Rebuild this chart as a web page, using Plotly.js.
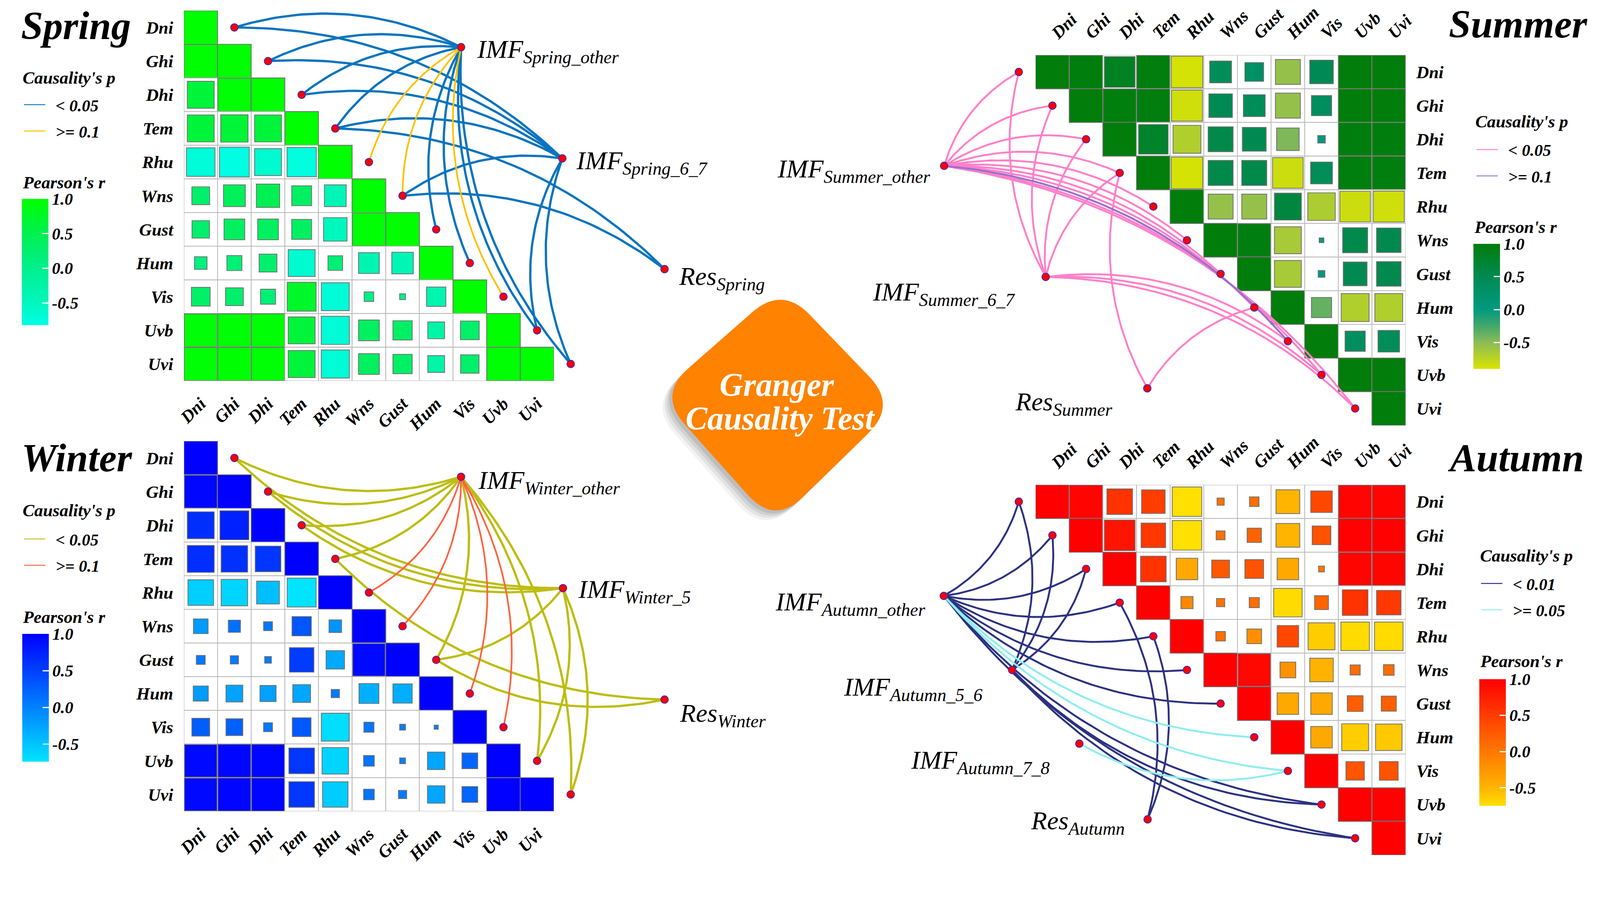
<!DOCTYPE html>
<html><head><meta charset="utf-8">
<script src="https://cdn.plot.ly/plotly-3.0.1.min.js"></script>
<style>html,body{margin:0;padding:0;background:#fff;overflow:hidden}</style>
</head><body><div id="chart"></div>
<script>
// ---------------- DATA ----------------
const variables = ['Dni','Ghi','Dhi','Tem','Rhu','Wns','Gust','Hum','Vis','Uvb','Uvi'];

// Pearson's r, lower triangle (row i -> columns 0..i-1), diagonal = 1
const springR = [
 [],
 [0.98],
 [0.64,0.97],
 [0.64,0.66,0.64],
 [-0.72,-0.79,-0.64,-0.76],
 [0.28,0.42,0.48,0.35,-0.42],
 [0.27,0.38,0.38,0.35,-0.49,0.97],
 [0.14,0.20,0.28,-0.64,0.19,-0.38,-0.41],
 [0.31,0.28,0.20,0.74,-0.69,0.08,0.03,-0.33],
 [0.96,0.97,0.97,0.64,-0.70,0.38,0.33,-0.25,0.31],
 [0.97,0.98,0.97,0.64,-0.70,0.38,0.33,-0.25,0.30,0.99]
];
const winterR = [
 [],
 [0.95],
 [0.64,0.74],
 [0.64,0.62,0.58],
 [-0.58,-0.62,-0.46,-0.74],
 [-0.19,0.13,0.07,0.33,-0.14],
 [0.07,0.06,0.04,0.53,-0.30,0.93],
 [-0.20,-0.25,-0.23,-0.28,0.06,-0.35,-0.33],
 [0.28,0.25,0.07,0.31,-0.69,0.09,0.03,0.015],
 [0.93,0.96,0.96,0.58,-0.62,0.10,0.03,-0.27,0.22],
 [0.94,0.96,0.96,0.58,-0.57,0.10,0.06,-0.27,0.22,0.99]
];
// upper triangle (row i -> columns i+1..10)
const summerR = [
 [0.98,0.83,0.97,-0.88,0.42,0.31,-0.55,0.49,0.99,0.99],
 [0.97,0.97,-0.85,0.49,0.42,-0.55,0.36,0.99,0.99],
 [0.77,-0.69,0.55,0.50,-0.45,0.05,0.98,0.98],
 [-0.88,0.55,0.55,-0.83,0.42,0.97,0.97],
 [-0.55,-0.55,0.64,-0.67,-0.83,-0.85],
 [0.96,-0.64,0.02,0.55,0.53],
 [-0.64,0.04,0.50,0.53],
 [-0.36,-0.69,-0.69],
 [0.36,0.41],
 [0.99],
 []
];
const autumnR = [
 [0.97,0.58,0.49,-0.77,0.045,0.08,-0.50,0.41,0.97,0.97],
 [0.83,0.53,-0.77,0.07,0.18,-0.50,0.31,0.99,0.98],
 [0.58,-0.41,0.28,0.31,-0.41,0.03,0.96,0.96],
 [-0.13,0.06,0.09,-0.72,0.17,0.58,0.53],
 [0.08,-0.19,0.41,-0.64,-0.72,-0.72],
 [0.93,-0.22,-0.49,0.09,0.10],
 [-0.41,-0.41,0.22,0.20],
 [-0.41,-0.64,-0.62],
 [0.30,0.31],
 [0.98],
 []
];

// colour-scale limits (min r of each season .. 1)
const springLimits = [-0.82, 1.0];
const summerLimits = [-0.90, 1.0];
const winterLimits = [-0.74, 1.0];
const autumnLimits = [-0.75, 1.0];

// Granger causality links: [hub, variable, p-class (0 = first legend entry, 1 = second)]
const springEdges = [
 ['IMF_Spring_other','Dni',0],['IMF_Spring_other','Ghi',0],['IMF_Spring_other','Dhi',0],['IMF_Spring_other','Tem',0],
 ['IMF_Spring_other','Rhu',1],['IMF_Spring_other','Wns',1],['IMF_Spring_other','Gust',0],['IMF_Spring_other','Hum',0],
 ['IMF_Spring_other','Vis',1],['IMF_Spring_other','Uvb',0],['IMF_Spring_other','Uvi',0],
 ['IMF_Spring_6_7','Dni',0],['IMF_Spring_6_7','Ghi',0],['IMF_Spring_6_7','Dhi',0],['IMF_Spring_6_7','Tem',0],
 ['IMF_Spring_6_7','Wns',0],['IMF_Spring_6_7','Uvb',0],['IMF_Spring_6_7','Uvi',0],
 ['Res_Spring','Tem',0],['Res_Spring','Wns',0]
];
const summerEdges = [
 ['IMF_Summer_other','Dni',0],['IMF_Summer_other','Ghi',0],['IMF_Summer_other','Dhi',0],['IMF_Summer_other','Tem',0],
 ['IMF_Summer_other','Rhu',0],['IMF_Summer_other','Wns',0],['IMF_Summer_other','Gust',0],['IMF_Summer_other','Hum',0],
 ['IMF_Summer_other','Vis',1],['IMF_Summer_other','Uvb',0],['IMF_Summer_other','Uvi',0],
 ['IMF_Summer_6_7','Dni',0],['IMF_Summer_6_7','Ghi',0],['IMF_Summer_6_7','Dhi',0],['IMF_Summer_6_7','Tem',0],
 ['IMF_Summer_6_7','Vis',0],['IMF_Summer_6_7','Uvb',0],['IMF_Summer_6_7','Uvi',0],
 ['Res_Summer','Tem',0],['Res_Summer','Hum',0]
];
const winterEdges = [
 ['IMF_Winter_other','Dni',0],['IMF_Winter_other','Ghi',0],['IMF_Winter_other','Dhi',0],['IMF_Winter_other','Tem',0],
 ['IMF_Winter_other','Rhu',1],['IMF_Winter_other','Wns',1],['IMF_Winter_other','Gust',0],['IMF_Winter_other','Hum',1],
 ['IMF_Winter_other','Vis',1],['IMF_Winter_other','Uvb',0],['IMF_Winter_other','Uvi',0],
 ['IMF_Winter_5','Dni',0],['IMF_Winter_5','Ghi',0],['IMF_Winter_5','Dhi',0],['IMF_Winter_5','Gust',0],
 ['IMF_Winter_5','Uvb',0],['IMF_Winter_5','Uvi',0],
 ['Res_Winter','Tem',0],['Res_Winter','Gust',0]
];
const autumnEdges = [
 ['IMF_Autumn_other','Dni',0],['IMF_Autumn_other','Ghi',0],['IMF_Autumn_other','Dhi',0],['IMF_Autumn_other','Tem',0],
 ['IMF_Autumn_other','Rhu',0],['IMF_Autumn_other','Wns',0],['IMF_Autumn_other','Gust',0],['IMF_Autumn_other','Hum',1],
 ['IMF_Autumn_other','Vis',1],['IMF_Autumn_other','Uvb',0],['IMF_Autumn_other','Uvi',0],
 ['IMF_Autumn_5_6','Dni',0],['IMF_Autumn_5_6','Ghi',0],['IMF_Autumn_5_6','Dhi',0],['IMF_Autumn_5_6','Uvb',0],['IMF_Autumn_5_6','Uvi',0],
 ['IMF_Autumn_7_8','Vis',1],
 ['Res_Autumn','Tem',0],['Res_Autumn','Rhu',0]
];

// hub nodes (network layout, in matrix cell units: column, row)
const springHubs = ['IMF_Spring_other','IMF_Spring_6_7','Res_Spring'];
const springHubCol = [7.74, 10.75, 13.79];
const springHubRow = [0.585, 3.89, 7.18];
const summerHubs = ['IMF_Summer_other','IMF_Summer_6_7','Res_Summer'];
const summerHubCol = [-3.22, -0.20, 2.82];
const summerHubRow = [2.79, 6.09, 9.40];
const winterHubs = ['IMF_Winter_other','IMF_Winter_5','Res_Winter'];
const winterHubCol = [7.74, 10.77, 13.79];
const winterHubRow = [0.56, 3.87, 7.18];
const autumnHubs = ['IMF_Autumn_other','IMF_Autumn_5_6','IMF_Autumn_7_8','Res_Autumn'];
const autumnHubCol = [-3.23, -1.20, 0.80, 2.83];
const autumnHubRow = [2.80, 5.00, 7.19, 9.44];

const colorTicks = [1, 0.5, 0, -0.5];
const colorTickText = ['1.0','0.5','0.0','-0.5'];

// ---------------- STYLE ----------------
const W = 4210, H = 2303, C = 88.5;
const vw = window.innerWidth || W, vh = window.innerHeight || H;
const S = Math.min(vw / W, vh / H);          // adapt to the real viewport
const FONT = 'Liberation Serif, Times New Roman, serif';
const fBI = (size, color) => ({family: FONT, size: size*S, style: 'italic', weight: 'bold', color: color || '#000'});
const fI = (size, color) => ({family: FONT, size: size*S, style: 'italic', weight: 'normal', color: color || '#000'});
const NB = '\u00A0\u00A0';

const seasons = [
 {name:'Spring', tri:'lower', L:484, T:28, box:[380,2070,0,1150], R:springR, lim:springLimits,
  scale:[[0,'#00FFE6'],[0.176,'#00F7BE'],[0.451,'#00F08E'],[0.725,'#00F050'],[1,'#00FF00']],
  edges:springEdges, hubs:springHubs, hubCol:springHubCol, hubRow:springHubRow, curv:0.2,
  linkColors:['#0A74BE','#FFC000'], linkWidths:[6,4.5], linkNames:['< 0.05','>= 0.1'],
  hubLabel:[[40,-10],[34,-10],[36,-24]], hubAnchor:'left',
  title:{x:53, y:68, anchor:'left'}, cp:{x:58, y:204}, legend:{x:58, y:240}, pr:{x:58, y:480}, cb:{x:58, top:523, len:332}},
 {name:'Summer', tri:'upper', L:2725, T:145, box:[2000,3800,0,1150], R:summerR, lim:summerLimits,
  scale:[[0,'#D8E400'],[0.2105,'#8CBC56'],[0.34,'#45A86A'],[0.4737,'#009A80'],[0.7368,'#008A52'],[1,'#007D0A']],
  edges:summerEdges, hubs:summerHubs, hubCol:summerHubCol, hubRow:summerHubRow, curv:-0.2,
  linkColors:['#FF80C8','#9A70D0'], linkWidths:[5,5], linkNames:['< 0.05','>= 0.1'],
  hubLabel:[[-34,-12],[-78,-44],[-90,-40]], hubAnchor:'right',
  title:{x:4180, y:64, anchor:'right'}, cp:{x:3880, y:320}, legend:{x:3880, y:358}, pr:{x:3877, y:597}, cb:{x:3877, top:641, len:329}},
 {name:'Winter', tri:'lower', L:484, T:1160, box:[380,2070,1150,2303], R:winterR, lim:winterLimits,
  scale:[[0,'#00E4FF'],[0.138,'#00C4FF'],[0.425,'#0082FF'],[0.7126,'#0040FF'],[1,'#0000FF']],
  edges:winterEdges, hubs:winterHubs, hubCol:winterHubCol, hubRow:winterHubRow, curv:-0.2,
  linkColors:['#BDBD14','#FF6440'], linkWidths:[6,4.5], linkNames:['< 0.05','>= 0.1'],
  hubLabel:[[43,-14],[38,-8],[38,-40]], hubAnchor:'left',
  title:{x:54, y:1204, anchor:'left'}, cp:{x:58, y:1342}, legend:{x:58, y:1382}, pr:{x:58, y:1623}, cb:{x:59, top:1667, len:336}},
 {name:'Autumn', tri:'upper', L:2725, T:1275, box:[2000,3800,1150,2303], R:autumnR, lim:autumnLimits,
  scale:[[0,'#FFE000'],[0.1429,'#FFB400'],[0.4286,'#FF7800'],[0.714,'#FF3C00'],[1,'#FF0000']],
  edges:autumnEdges, hubs:autumnHubs, hubCol:autumnHubCol, hubRow:autumnHubRow, curv:0.2,
  linkColors:['#2C3280','#8EEDEE'], linkWidths:[5,5], linkNames:['< 0.01','>= 0.05'],
  hubLabel:[[-46,-20],[-76,-50],[-76,-48],[-58,-8]], hubAnchor:'right',
  title:{x:4170, y:1204, anchor:'right'}, cp:{x:3892, y:1461}, legend:{x:3892, y:1499}, pr:{x:3892, y:1739}, cb:{x:3892, top:1786, len:333}}
];

// ---------------- HELPERS ----------------
function hex2rgb(h){ return [parseInt(h.substr(1,2),16), parseInt(h.substr(3,2),16), parseInt(h.substr(5,2),16)]; }
function colorAt(scale, lim, v){
  let t = (v - lim[0]) / (lim[1] - lim[0]);
  t = Math.max(0, Math.min(1, t));
  for (let k = 1; k < scale.length; k++){
    if (t <= scale[k][0]){
      const a = scale[k-1], b = scale[k];
      const f = (t - a[0]) / (b[0] - a[0]);
      const ca = hex2rgb(a[1]), cb = hex2rgb(b[1]);
      return 'rgb(' + ca.map((c,i)=>Math.round(c + (cb[i]-c)*f)).join(',') + ')';
    }
  }
  return scale[scale.length-1][1];
}
function curve(P0, P1, k, n){
  const dx = P1[0]-P0[0], dy = P1[1]-P0[1];
  const cx = (P0[0]+P1[0])/2 - k*dy, cy = (P0[1]+P1[1])/2 + k*dx;
  const xs = [], ys = [];
  for (let i = 0; i <= n; i++){
    const t = i/n, u = 1-t;
    xs.push(u*u*P0[0] + 2*u*t*cx + t*t*P1[0]);
    ys.push(u*u*P0[1] + 2*u*t*cy + t*t*P1[1]);
  }
  return [xs, ys];
}

const traces = [], shapes = [], annotations = [];
const layout = {
  width: W*S, height: H*S, margin: {l:0, r:0, t:0, b:0},
  paper_bgcolor: '#ffffff', plot_bgcolor: 'rgba(0,0,0,0)', showlegend: true,
  font: {family: FONT, size: 20*S}
};

seasons.forEach((s, si) => {
  const mi = si + 1, ni = si + 5;
  const mx = 'x' + mi, my = 'y' + mi, nx = 'x' + ni, ny = 'y' + ni;
  const lower = s.tri === 'lower';
  const xdom = [s.L/W, (s.L + 11*C)/W];
  const ydom = [1 - (s.T + 11*C)/H, 1 - s.T/H];
  const idx = variables.map((v,i)=>i);
  layout['xaxis' + mi] = {domain: xdom, range: [-0.5, 10.5], anchor: my, side: lower ? 'bottom' : 'top',
    tickmode: 'array', tickvals: idx, ticktext: variables, tickangle: -45, tickfont: fBI(46),
    ticks: 'outside', ticklen: 14*S, tickcolor: 'rgba(0,0,0,0)',
    showgrid: false, zeroline: false, showline: false, fixedrange: true};
  layout['yaxis' + mi] = {domain: ydom, range: [10.5, -0.5], anchor: mx, side: lower ? 'left' : 'right',
    tickmode: 'array', tickvals: idx, ticktext: variables, tickfont: fBI(46),
    ticks: 'outside', ticklen: 18*S, tickcolor: 'rgba(0,0,0,0)',
    showgrid: false, zeroline: false, showline: false, fixedrange: true};
  // network axes, same unit scale as the matrix
  const [px0, px1, py0, py1] = s.box;
  layout['xaxis' + ni] = {domain: [px0/W, px1/W], range: [(px0 - s.L)/C - 0.5, (px1 - s.L)/C - 0.5],
    anchor: ny, visible: false, fixedrange: true};
  layout['yaxis' + ni] = {domain: [1 - py1/H, 1 - py0/H], range: [(py1 - s.T)/C - 0.5, (py0 - s.T)/C - 0.5],
    anchor: nx, visible: false, fixedrange: true};

  // correlation cells
  for (let i = 0; i < variables.length; i++){
    const cols = lower ? idx.filter(j => j <= i) : idx.filter(j => j >= i);
    cols.forEach(j => {
      const r = (i === j) ? 1 : (lower ? s.R[i][j] : s.R[i][j - i - 1]);
      shapes.push({type:'rect', xref: mx, yref: my, x0: j-0.5, x1: j+0.5, y0: i-0.5, y1: i+0.5,
        fillcolor: '#ffffff', line: {color: '#B8B8B8', width: 2*S}, layer: 'below'});
      const h = Math.sqrt(Math.abs(r))/2;
      shapes.push({type:'rect', xref: mx, yref: my, x0: j-h, x1: j+h, y0: i-h, y1: i+h,
        fillcolor: colorAt(s.scale, s.lim, r), line: {color: '#6E6E6E', width: 2*S}, layer: 'below'});
    });
  }
  // colour bar holder
  traces.push({type:'scatter', mode:'markers', x:[5,5], y:[5,5], xaxis: mx, yaxis: my, hoverinfo:'skip', showlegend:false,
    marker: {size: 1, opacity: 0, color: s.lim, cmin: s.lim[0], cmax: s.lim[1], colorscale: s.scale, showscale: true,
      colorbar: {x: s.cb.x/W, xanchor: 'left', y: 1 - s.cb.top/H, yanchor: 'top', len: s.cb.len*S, lenmode: 'pixels',
        thickness: 70*S, thicknessmode: 'pixels', xpad: 0, ypad: 0, outlinewidth: 0, borderwidth: 0,
        tickmode: 'array', tickvals: colorTicks, ticktext: colorTickText, ticks: 'inside', ticklen: 16*S, tickwidth: 3*S,
        tickcolor: '#ffffff', tickfont: fBI(44), ticklabelposition: 'outside'}}});

  // node positions
  const nodePos = {};
  variables.forEach((v,i) => { nodePos[v] = [lower ? i+1 : i-1, i]; });
  s.hubs.forEach((h,k) => { nodePos[h] = [s.hubCol[k], s.hubRow[k]]; });

  // links
  const legendId = si === 0 ? 'legend' : 'legend' + (si+1);
  [0,1].forEach(cls => {
    const xs = [], ys = [];
    s.edges.filter(e => e[2] === cls).forEach(e => {
      const [cx, cy] = curve(nodePos[e[0]], nodePos[e[1]], s.curv, 48);
      xs.push(...cx, null); ys.push(...cy, null);
    });
    traces.push({type:'scatter', mode:'lines', x: xs, y: ys, xaxis: nx, yaxis: ny, hoverinfo:'skip', showlegend:false,
      line: {color: s.linkColors[cls], width: s.linkWidths[cls]*S}});
  });
  // legend entries
  [0,1].forEach(cls => {
    traces.push({type:'scatter', mode:'lines', x:[null], y:[null], xaxis: nx, yaxis: ny, name: NB + s.linkNames[cls],
      legend: legendId, legendgroup: s.name + cls, showlegend: true, line: {color: s.linkColors[cls], width: 2.5*S}});
  });
  layout[legendId] = {x: s.legend.x/W, y: 1 - s.legend.y/H, xanchor: 'left', yanchor: 'top',
    bgcolor: 'rgba(0,0,0,0)', borderwidth: 0, font: fBI(44), itemwidth: 56*S, tracegroupgap: 9*S};
  annotations.push({xref:'paper', yref:'paper', x: s.cp.x/W, y: 1 - s.cp.y/H, xanchor:'left', yanchor:'middle',
    text: "Causality's p", showarrow: false, font: fBI(46)});

  // nodes
  const nxs = [], nys = [];
  variables.forEach(v => { nxs.push(nodePos[v][0]); nys.push(nodePos[v][1]); });
  s.hubs.forEach(h => { nxs.push(nodePos[h][0]); nys.push(nodePos[h][1]); });
  traces.push({type:'scatter', mode:'markers', x: nxs, y: nys, xaxis: nx, yaxis: ny, hoverinfo:'skip', showlegend:false,
    cliponaxis: false, marker: {size: 20*S, color: '#FF0000', line: {color: '#2A2AD0', width: 1.8*S}}});

  // hub labels
  s.hubs.forEach((h,k) => {
    const p = h.indexOf('_');
    annotations.push({xref: nx, yref: ny, x: s.hubCol[k], y: s.hubRow[k], showarrow: false,
      text: h.slice(0,p) + '<sub>' + h.slice(p+1) + '</sub>', font: fI(68),
      xanchor: s.hubAnchor, yanchor: 'middle', xshift: s.hubLabel[k][0]*S, yshift: s.hubLabel[k][1]*S});
  });
  // season title, colour-bar title
  annotations.push({xref:'paper', yref:'paper', x: s.title.x/W, y: 1 - s.title.y/H, xanchor: s.title.anchor, yanchor:'middle',
    text: s.name, showarrow: false, font: fBI(104)});
  annotations.push({xref:'paper', yref:'paper', x: s.pr.x/W, y: 1 - s.pr.y/H, xanchor:'left', yanchor:'middle',
    text: "Pearson's r", showarrow: false, font: fBI(46)});
});

// ---------------- centre badge ----------------
function roundedPath(V, a, dx, dy){
  const P = V.map(v => [v[0]+dx, v[1]+dy]);
  const pt = (A, B, d) => { const L = Math.hypot(B[0]-A[0], B[1]-A[1]); return [A[0] + (B[0]-A[0])*d/L, A[1] + (B[1]-A[1])*d/L]; };
  const f = q => (q[0]/W).toFixed(5) + ',' + (1 - q[1]/H).toFixed(5);
  let d = '';
  for (let i = 0; i < 4; i++){
    const prev = P[(i+3)%4], cur = P[i], next = P[(i+1)%4];
    const a1 = pt(cur, prev, a), a2 = pt(cur, next, a);
    d += (i === 0 ? 'M' : 'L') + f(a1) + ' Q' + f(cur) + ' ' + f(a2) + ' ';
  }
  return d + 'Z';
}
const badge = [[2058,752],[2360,1066],[2038,1380],[1732,1038]];
[[-26,26,0.07],[-20,20,0.10],[-14,14,0.13],[-8,8,0.16]].forEach(sh => {
  shapes.push({type:'path', xref:'paper', yref:'paper', path: roundedPath(badge, 105, sh[0], sh[1]),
    fillcolor: 'rgba(90,90,90,' + sh[2] + ')', line: {width: 0}, layer: 'above'});
});
shapes.push({type:'path', xref:'paper', yref:'paper', path: roundedPath(badge, 105, 0, 0),
  fillcolor: '#FF8200', line: {width: 0}, layer: 'above'});
annotations.push({xref:'paper', yref:'paper', x: 2044/W, y: 1 - 1012/H, xanchor:'center', yanchor:'middle',
  text:'Granger', showarrow:false, font: fBI(86, '#ffffff')});
annotations.push({xref:'paper', yref:'paper', x: 2053/W, y: 1 - 1100/H, xanchor:'center', yanchor:'middle',
  text:'Causality Test', showarrow:false, font: fBI(86, '#ffffff')});

layout.shapes = shapes;
layout.annotations = annotations;
Plotly.newPlot('chart', traces, layout, {displayModeBar: false, staticPlot: true});
</script>
</body></html>
